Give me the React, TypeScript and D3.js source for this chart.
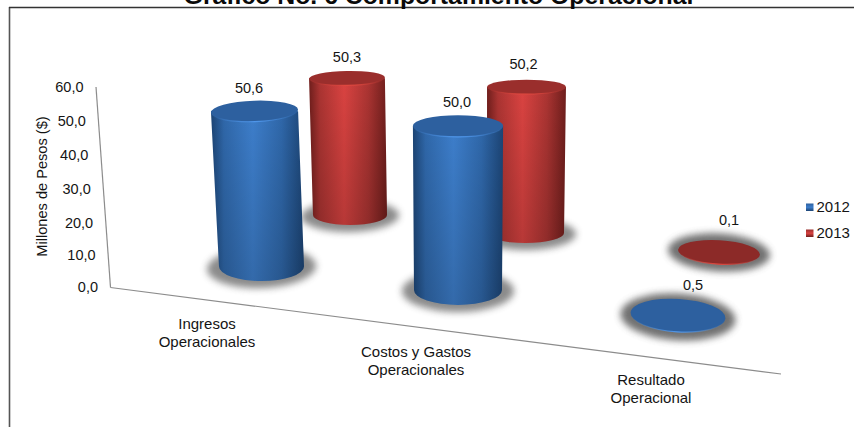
import React from "react";
import * as d3 from "d3";

const categories = [["Ingresos", "Operacionales"], ["Costos y Gastos", "Operacionales"], ["Resultado", "Operacional"]];
const seriesNames = ["2012", "2013"];
const values2012 = [50.6, 50.0, 0.5];
const values2013 = [50.3, 50.2, 0.1];
const yTicks = [0, 10, 20, 30, 40, 50, 60];

const W = 854, H = 427;
const idx = [0, 1, 2];
const lin = (r: number[]) => d3.scaleLinear().domain(idx).range(r);

const pal = [
  { edge: "#2f67a9", mid: "#3d7ecb", dark: "#1c4474", cap: "#2d609f", rim: "#4f96ea" },
  { edge: "#ab3432", mid: "#da4341", dark: "#6f1e1c", cap: "#9a2e2c", rim: "#e0483f" },
];
const flatFill = ["#2d609f", "#8c2a28"];

// floor projection, one set of scales per series (depth row)
const geo = [
  {
    bx: lin([261.5, 458, 678]), by: lin([266.5, 290, 317]),
    rx: lin([42.5, 44, 47.5]), ry: lin([14.5, 15, 16.5]),
    unit: lin([3.07, 3.28, 3.2]), lean: lin([-0.138, 0, 0]),
    rot: lin([-2, 0, 3.5]), ldx: lin([-5.5, -1, 15]), ldy: lin([-13, -13, -14]),
  },
  {
    bx: lin([350, 525.5, 719]), by: lin([215, 233, 252.5]),
    rx: lin([37, 38.5, 41]), ry: lin([10, 10, 12]),
    unit: lin([2.72, 2.91, 3]), lean: lin([-0.06, 0.02, 0]),
    rot: lin([-1, 0, 3.5]), ldx: lin([0, -3, 10]), ldy: lin([-14, -16, -20]),
  },
];

const tickY = d3.scaleLinear().domain(yTicks).range([287, 255, 223, 189, 155, 121, 87]);
const axisX = d3.scaleLinear().domain([0, 60]).range([110.5, 96]);
const axisY = d3.scaleLinear().domain([0, 60]).range([287.5, 87]);
const floorX = d3.scaleLinear().domain([0, 1]).range([110.5, 781]);
const floorY = d3.scaleLinear().domain([0, 1]).range([287.5, 374]);
const catX = lin([207, 416, 651]);
const catY = lin([324, 352, 380]);
const fmt = (v: number) => v.toFixed(1).replace(".", ",");
const ink = "#141414";
const font = "'Liberation Sans', Arial, sans-serif";

function Cylinder({ s, c, v }: { s: number; c: number; v: number }) {
  const g = geo[s];
  const bx = g.bx(c), by = g.by(c), h = v * g.unit(c);
  const tx = bx + v * g.lean(c), ty = by - h;
  const rxB = g.rx(c), ryB = g.ry(c);
  const rxT = rxB * (1 + v * 0.0005), ryT = ryB * (1 - v * 0.0055);
  const rot = g.rot(c);
  const flat = h < 4;
  const body = `M${tx - rxT},${ty} L${bx - rxB},${by} A${rxB},${ryB} 0 0 0 ${bx + rxB},${by} L${tx + rxT},${ty} Z`;
  const rim = `M${tx - rxT},${ty} A${rxT},${ryT} 0 0 0 ${tx + rxT},${ty}`;
  return (
    <g>
      <ellipse cx={bx} cy={by + (flat ? 0 : 1)} rx={rxB + (flat ? 10 : 12)} ry={ryB + (flat ? 7 : 6)} fill="#4d4d4d" opacity={flat ? 0.8 : 0.65} filter="url(#blur)"
        transform={`rotate(${rot} ${bx} ${by})`} />
      {!flat && <path d={body} fill={`url(#body${s})`} />}
      {!flat && <path d={body} fill="url(#fade)" />}
      <g transform={`rotate(${rot} ${tx} ${ty})`}>
        <ellipse cx={tx} cy={ty} rx={rxT} ry={ryT} fill={flat ? flatFill[s] : pal[s].cap} />
        <path d={rim} fill="none" stroke={`url(#rim${s})`} strokeWidth={1.2} />
      </g>
    </g>
  );
}

export default function App() {
  const rows = [values2013, values2012];
  return (
    <svg width={W} height={H} viewBox={`0 0 ${W} ${H}`}
      style={{ position: "absolute", left: 0, top: 0, background: "#fff", fontFamily: font }}>
      <defs>
        {pal.map((p, i) => (
          <linearGradient key={i} id={`body${i}`} x1="0" x2="1" y1="0" y2="0">
            <stop offset="0" stopColor={p.dark} />
            <stop offset="0.14" stopColor={p.edge} />
            <stop offset="0.45" stopColor={p.mid} />
            <stop offset="0.76" stopColor={p.edge} />
            <stop offset="1" stopColor={p.dark} />
          </linearGradient>
        ))}
        {pal.map((p, i) => (
          <linearGradient key={i} id={`rim${i}`} x1="0" x2="1" y1="0" y2="0">
            <stop offset="0" stopColor={p.rim} stopOpacity={0} />
            <stop offset="0.5" stopColor={p.rim} stopOpacity={1} />
            <stop offset="1" stopColor={p.rim} stopOpacity={0} />
          </linearGradient>
        ))}
        <linearGradient id="fade" x1="0" x2="0" y1="0" y2="1">
          <stop offset="0" stopColor="#000" stopOpacity={0} />
          <stop offset="1" stopColor="#000" stopOpacity={0.16} />
        </linearGradient>
        <filter id="blur" x="-30%" y="-60%" width="160%" height="220%">
          <feGaussianBlur stdDeviation={3.6} />
        </filter>
        {pal.map((p, i) => (
          <linearGradient key={i} id={`key${i}`} x1="0" x2="0" y1="0" y2="1">
            <stop offset="0" stopColor={p.cap} />
            <stop offset="0.5" stopColor={p.mid} />
            <stop offset="1" stopColor={p.dark} />
          </linearGradient>
        ))}
      </defs>

      <line x1={9.5} x2={9.5} y1={7} y2={H} stroke="#555" strokeWidth={1.6} />
      <line x1={9} x2={W} y1={7.5} y2={7.5} stroke="#333" strokeWidth={1.4} />
      <text x={438.5} y={4} textAnchor="middle" fontWeight="bold" fontSize={24.8} fill="#0a0a0a">
        Gráfico No. 6 Comportamiento Operacional
      </text>

      <line x1={axisX(0)} y1={axisY(0)} x2={axisX(60)} y2={axisY(60)} stroke="#8c8c8c" strokeWidth={1.2} />
      <line x1={floorX(0)} y1={floorY(0)} x2={floorX(1)} y2={floorY(1)} stroke="#8c8c8c" strokeWidth={1.2} />

      {yTicks.map((t) => (
        <text key={t} x={axisX(t) - 12.5} y={tickY(t)} dy="0.36em" textAnchor="end" fontSize={14.5} fill={ink}>{fmt(t)}</text>
      ))}
      <text transform="translate(42,186.5) rotate(-90)" dy="0.36em" textAnchor="middle" fontSize={14.6} fill={ink}>
        Millones de Pesos ($)
      </text>

      {rows.map((vals, r) => {
        const s = 1 - r;
        return vals.map((v, c) => <Cylinder key={`${s}-${c}`} s={s} c={c} v={v} />);
      })}

      {rows.map((vals, r) => {
        const s = 1 - r, g = geo[s];
        return vals.map((v, c) => {
          const ty = g.by(c) - v * g.unit(c) - g.ry(c) * (1 - v * 0.0055);
          return (
            <text key={`${s}-${c}`} x={g.bx(c) + v * g.lean(c) + g.ldx(c)} y={ty + g.ldy(c)} dy="0.36em"
              textAnchor="middle" fontSize={14.5} fill={ink}>{fmt(v)}</text>
          );
        });
      })}

      {categories.map((lines, c) => lines.map((l, i) => (
        <text key={`${c}-${i}`} x={catX(c)} y={catY(c) + i * 18} dy="0.36em" textAnchor="middle" fontSize={15} fill={ink}>{l}</text>
      )))}

      {seriesNames.map((n, i) => {
        const y = d3.scaleLinear().domain([0, 1]).range([207, 233])(i);
        return (
          <g key={n}>
            <rect x={806} y={y - 3.5} width={7.5} height={7.5} fill={`url(#key${i})`} />
            <text x={816.5} y={y} dy="0.36em" fontSize={15} fill={ink}>{n}</text>
          </g>
        );
      })}
    </svg>
  );
}
